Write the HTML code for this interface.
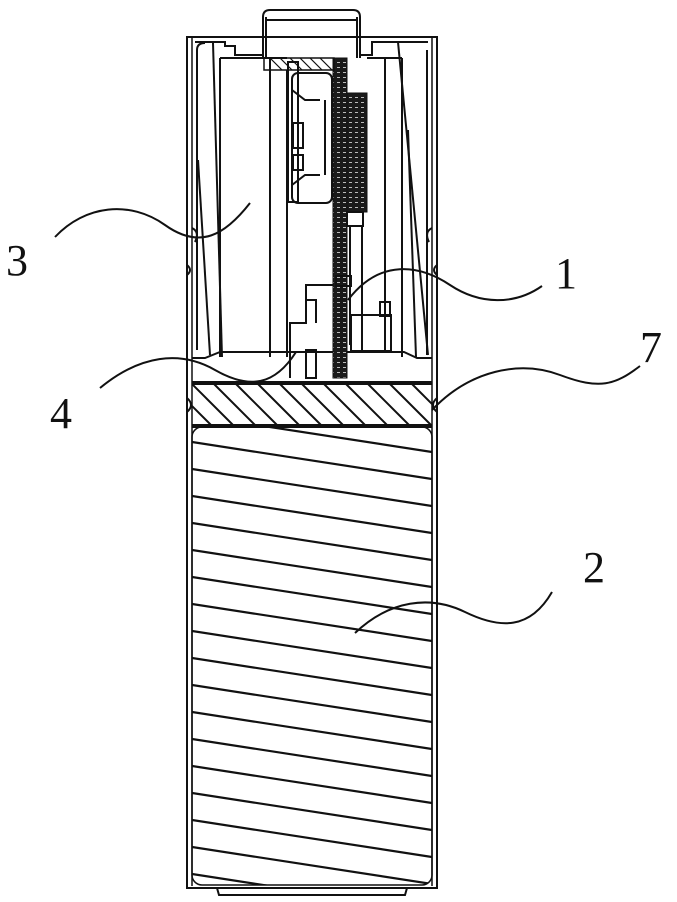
<!DOCTYPE html>
<html><head><meta charset="utf-8"><style>
html,body{margin:0;padding:0;background:#fff;}
svg{display:block;}
text{font-family:"Liberation Serif","Noto Serif CJK SC",serif;font-size:44px;fill:#111;}
</style></head><body>
<svg width="677" height="902" viewBox="0 0 677 902" xmlns="http://www.w3.org/2000/svg">
<defs>
<pattern id="dots" width="6" height="5" patternUnits="userSpaceOnUse">
<rect width="6" height="5" fill="#1a1a1a"/><rect x="1" y="2" width="3" height="1" fill="#bbb"/>
</pattern>
<clipPath id="bat"><rect x="192" y="427" width="240" height="458" rx="10"/></clipPath>
<clipPath id="band"><rect x="192" y="384" width="240" height="41"/></clipPath>
</defs>
<g fill="none" stroke="#111" stroke-width="2">
<!-- outer shell -->
<rect x="187" y="37" width="250" height="851"/>
<line x1="192" y1="37" x2="192" y2="886" stroke-width="1.5"/>
<line x1="432" y1="37" x2="432" y2="886" stroke-width="1.5"/>
<!-- bottom cap -->
<path d="M217 888 L219 895 L405 895 L407 888"/>
<!-- cap top -->
<path d="M263 58 L263 17 Q263 10 270 10 L353 10 Q360 10 360 17 L360 58"/>
<line x1="266" y1="20" x2="357" y2="20"/>
<line x1="266" y1="17" x2="266" y2="58"/>
<line x1="357" y1="17" x2="357" y2="58"/>
<!-- top inner liner -->
<path d="M195 42 L225 42 L225 46 L235 46 L235 55 L263 55"/>
<path d="M360 55 L372 55 L372 42 L428 42"/>
<!-- cavity floor -->
<path d="M192 358 L205 358 L220 352 L404 352 L417 358 L432 358"/>
<line x1="192" y1="382" x2="432" y2="382"/>
<line x1="192" y1="384" x2="432" y2="384"/>
<line x1="192" y1="425" x2="432" y2="425"/>
<line x1="192" y1="427" x2="432" y2="427"/>
<!-- left side wall lines -->
<path d="M197 50 Q197 43 205 43" />
<line x1="197" y1="50" x2="197" y2="350"/>
<line x1="213" y1="43" x2="222" y2="357"/>
<line x1="198" y1="160" x2="210" y2="355"/>
<line x1="220" y1="58" x2="220" y2="357"/>
<line x1="270" y1="58" x2="270" y2="357"/>
<line x1="287" y1="70" x2="287" y2="357"/>
<line x1="220" y1="58" x2="287" y2="58"/>
<!-- right side -->
<line x1="367" y1="58" x2="402" y2="58"/>
<line x1="402" y1="58" x2="402" y2="357"/>
<line x1="398" y1="42" x2="428" y2="355"/>
<line x1="408" y1="130" x2="416" y2="357"/>
<line x1="427" y1="50" x2="427" y2="355"/>
<line x1="385" y1="58" x2="385" y2="350"/>
<!-- side notches -->
<path d="M192 228 Q200 232 195 242"/><path d="M432 228 Q424 232 429 242"/>
<path d="M187 265 Q193 270 187 275"/><path d="M437 265 Q431 270 437 275"/>
<path d="M187 398 Q195 405 187 412"/><path d="M437 398 Q429 405 437 412"/>
<!-- component block -->
<rect x="292" y="73" width="40" height="130" rx="6"/>
<path d="M292 90 L305 100 L320 100"/><path d="M292 185 L305 175 L320 175"/>
<rect x="293" y="123" width="10" height="25"/><rect x="293" y="155" width="10" height="15"/>
<rect x="288" y="62" width="10" height="140"/>
<line x1="325" y1="100" x2="325" y2="175"/>
<!-- pcb -->
<rect x="333" y="58" width="14" height="320" fill="url(#dots)" stroke-width="1"/>
<rect x="347" y="93" width="20" height="119" fill="url(#dots)" stroke-width="1"/>
<rect x="347" y="212" width="16" height="14"/>
<line x1="350" y1="226" x2="350" y2="345"/><line x1="362" y1="226" x2="362" y2="350"/>
<!-- cap bottom hatched bar -->
<rect x="264" y="58" width="70" height="12" stroke-width="1.5"/>
<g stroke-width="1.2">
<line x1="270" y1="58" x2="282" y2="70"/><line x1="280" y1="58" x2="292" y2="70"/><line x1="290" y1="58" x2="302" y2="70"/><line x1="300" y1="58" x2="312" y2="70"/><line x1="310" y1="58" x2="322" y2="70"/><line x1="320" y1="58" x2="332" y2="70"/>
</g>
<!-- lower connector -->
<path d="M290 378 L290 323 L306 323 L306 285 L333 285"/>
<path d="M306 300 L316 300 L316 323"/>
<rect x="306" y="350" width="10" height="28"/>
<rect x="336" y="276" width="15" height="10"/>
<!-- right component -->
<rect x="351" y="315" width="40" height="36"/>
<rect x="380" y="302" width="10" height="14"/>
<!-- 7 notch detail -->
</g>
<!-- band hatch -->
<g clip-path="url(#band)" stroke="#111" stroke-width="2">
<line x1="170" y1="384" x2="211" y2="425"/><line x1="192" y1="384" x2="233" y2="425"/>
<line x1="214" y1="384" x2="255" y2="425"/><line x1="236" y1="384" x2="277" y2="425"/>
<line x1="258" y1="384" x2="299" y2="425"/><line x1="280" y1="384" x2="321" y2="425"/>
<line x1="302" y1="384" x2="343" y2="425"/><line x1="324" y1="384" x2="365" y2="425"/>
<line x1="346" y1="384" x2="387" y2="425"/><line x1="368" y1="384" x2="409" y2="425"/>
<line x1="390" y1="384" x2="431" y2="425"/><line x1="412" y1="384" x2="453" y2="425"/>
</g>
<!-- battery hatch -->
<g clip-path="url(#bat)" stroke="#111" stroke-width="2.2" id="bh">
<line x1="192" y1="388" x2="432" y2="425"/>
<line x1="192" y1="415" x2="432" y2="452"/>
<line x1="192" y1="442" x2="432" y2="479"/>
<line x1="192" y1="469" x2="432" y2="506"/>
<line x1="192" y1="496" x2="432" y2="533"/>
<line x1="192" y1="523" x2="432" y2="560"/>
<line x1="192" y1="550" x2="432" y2="587"/>
<line x1="192" y1="577" x2="432" y2="614"/>
<line x1="192" y1="604" x2="432" y2="641"/>
<line x1="192" y1="631" x2="432" y2="668"/>
<line x1="192" y1="658" x2="432" y2="695"/>
<line x1="192" y1="685" x2="432" y2="722"/>
<line x1="192" y1="712" x2="432" y2="749"/>
<line x1="192" y1="739" x2="432" y2="776"/>
<line x1="192" y1="766" x2="432" y2="803"/>
<line x1="192" y1="793" x2="432" y2="830"/>
<line x1="192" y1="820" x2="432" y2="857"/>
<line x1="192" y1="847" x2="432" y2="884"/>
<line x1="192" y1="874" x2="432" y2="911"/>
</g>
<rect x="192" y="427" width="240" height="458" rx="10" fill="none" stroke="#111" stroke-width="1.5"/>
<!-- leaders -->
<g fill="none" stroke="#111" stroke-width="2">
<path d="M55 237 C85 205 130 200 165 225 S225 235 250 203"/>
<path d="M348 300 C380 258 420 265 450 285 S515 305 542 286"/>
<path d="M432 410 C470 370 520 360 560 375 S615 385 640 366"/>
<path d="M100 388 C140 355 180 350 215 370 S275 385 296 352"/>
<path d="M355 633 C390 600 430 595 465 612 S530 630 552 592"/>
</g>
<text x="6" y="275">3</text>
<text x="555" y="288">1</text>
<text x="640" y="362">7</text>
<text x="50" y="428">4</text>
<text x="583" y="582">2</text>
</svg>
</body></html>
